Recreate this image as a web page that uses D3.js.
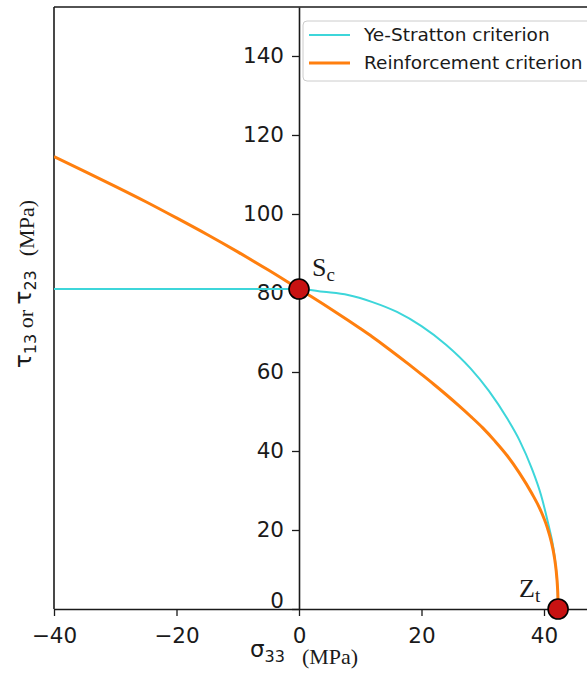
<!DOCTYPE html>
<html>
<head>
<meta charset="utf-8">
<script src="https://cdn.jsdelivr.net/npm/d3@7"></script>
<style>
  html, body { margin: 0; padding: 0; background: #ffffff; }
  svg { display: block; }
</style>
</head>
<body>
<svg id="chart" width="587" height="673"></svg>
<script>
// Ye-Stratton failure envelope: constant shear for compression, elliptical for tension
const yeStrattonSigma = [-40, -20, 0, 4, 8, 12, 16, 20, 24, 28, 31, 34, 36, 38, 39.5, 40.7, 41.5, 42.0, 42.2, 42.27, 42.3];
const yeStrattonTau   = [81, 81, 81, 80.3, 79.5, 77.7, 75.2, 71.6, 66.9, 60.9, 55.2, 48.2, 42.7, 35.6, 28.9, 21.5, 15.7, 9.6, 5.6, 3.0, 0];

// Reinforcement criterion envelope
const reinforcementSigma = [-40, -35, -30, -25, -20, -15, -10, -5, 0, 2, 4, 6, 8, 10, 12, 14, 16, 18, 20, 22, 24, 26, 28, 30, 32, 34, 36, 38, 39.5, 40.5, 41.2, 41.7, 42.0, 42.2, 42.27, 42.3];
const reinforcementTau   = [114.5, 110.8, 107.0, 103.1, 99.0, 94.8, 90.4, 85.8, 81, 79.1, 77.15, 75.15, 73.1, 71.0, 68.85, 66.6, 64.25, 61.85, 59.4, 56.9, 54.3, 51.6, 48.8, 45.85, 42.5, 38.8, 34.4, 29.3, 24.8, 20.8, 17.0, 13.1, 9.5, 5.6, 3.1, 0];

// Strength points: shear strength S_c and through-thickness tensile strength Z_t
const pointNames = ["S", "Z"];
const pointSubs  = ["c", "t"];
const pointSigma = [0, 42.3];
const pointTau   = [81, 0];

const xTicks = [-40, -20, 0, 20, 40];
const yTicks = [0, 20, 40, 60, 80, 100, 120, 140];

const seriesNames  = ["Ye-Stratton criterion", "Reinforcement criterion"];
const seriesColors = ["#3dd6da", "#ff7f0e"];
const seriesWidths = [2, 3];

const svg = d3.select("#chart");

const x = d3.scaleLinear().domain([-40, 48]).range([54, 593]);
const y = d3.scaleLinear().domain([0, 152.4]).range([609, 7]);

const ink = "#1a1a1a";
const sansFont = "'DejaVu Sans', sans-serif";
const serifFont = "'Liberation Serif', 'Times New Roman', serif";

// frame: left edge at x=-40 and top edge
svg.append("line")
  .attr("x1", x(-40)).attr("x2", x(-40))
  .attr("y1", y(152.4)).attr("y2", y(0))
  .attr("stroke", ink).attr("stroke-width", 1.6);
svg.append("line")
  .attr("x1", x(-40)).attr("x2", x(48))
  .attr("y1", y(152.4)).attr("y2", y(152.4))
  .attr("stroke", ink).attr("stroke-width", 1.6);

// x axis on tau = 0
const xAxis = svg.append("g")
  .attr("transform", `translate(0,${y(0)})`)
  .call(d3.axisBottom(x).tickValues(xTicks).tickSize(7).tickPadding(12).tickSizeOuter(0));

// y axis on sigma = 0
const yAxis = svg.append("g")
  .attr("transform", `translate(${x(0)},0)`)
  .call(d3.axisLeft(y).tickValues(yTicks).tickSize(7).tickPadding(8).tickSizeOuter(0));

[xAxis, yAxis].forEach(g => {
  g.selectAll(".domain").attr("stroke", ink).attr("stroke-width", 1.6);
  g.selectAll(".tick line").attr("stroke", ink).attr("stroke-width", 1.3);
  g.selectAll(".tick text")
    .attr("fill", ink)
    .style("font-family", sansFont)
    .style("font-size", "21.5px");
});
// the zero label on the shear axis sits just above the sigma axis line
yAxis.selectAll(".tick").filter(d => d === 0).select("text").attr("dy", "-0.05em");

// envelopes
const line = d3.line()
  .x(d => x(d[0]))
  .y(d => y(d[1]))
  .curve(d3.curveMonotoneX);

const seriesData = [
  d3.zip(yeStrattonSigma, yeStrattonTau),
  d3.zip(reinforcementSigma, reinforcementTau)
];

svg.append("clipPath").attr("id", "plot-clip")
  .append("rect")
  .attr("x", x(-40)).attr("y", y(152.4))
  .attr("width", x(48) - x(-40)).attr("height", y(0) - y(152.4) + 4);

svg.append("g").attr("clip-path", "url(#plot-clip)")
  .selectAll("path")
  .data(seriesData)
  .join("path")
  .attr("d", line)
  .attr("fill", "none")
  .attr("stroke", (d, i) => seriesColors[i])
  .attr("stroke-width", (d, i) => seriesWidths[i])
  .attr("stroke-linejoin", "round")
  .attr("stroke-linecap", "butt");

// strength points
svg.append("g")
  .selectAll("circle")
  .data(d3.range(pointSigma.length))
  .join("circle")
  .attr("cx", i => x(pointSigma[i]))
  .attr("cy", i => y(pointTau[i]))
  .attr("r", 10)
  .attr("fill", "#c81212")
  .attr("stroke", "#000")
  .attr("stroke-width", 1.6);

// point labels
const labelOffsets = [[13, -13], [-39, -12]];
const pointLabels = svg.append("g")
  .selectAll("text")
  .data(d3.range(pointNames.length))
  .join("text")
  .attr("x", i => x(pointSigma[i]) + labelOffsets[i][0])
  .attr("y", i => y(pointTau[i]) + labelOffsets[i][1])
  .attr("fill", ink)
  .style("font-family", serifFont)
  .style("font-size", "26px");
pointLabels.append("tspan").text(i => pointNames[i]);
pointLabels.append("tspan")
  .attr("dy", 5)
  .style("font-size", "19px")
  .text(i => pointSubs[i]);

// axis titles: symbol with numeric subscript, then the unit in a serif face
function addSymbol(text, symbol, sub, dy) {
  text.append("tspan").attr("dy", dy)
    .style("font-family", sansFont).style("font-size", "23px").text(symbol);
  text.append("tspan").attr("dy", 5)
    .style("font-family", sansFont).style("font-size", "16px").text(sub);
}

const xTitle = svg.append("text")
  .attr("x", 250).attr("y", 657)
  .attr("fill", ink)
  .style("font-family", serifFont)
  .style("font-size", "22px");
addSymbol(xTitle, "σ", "33", 0);
xTitle.append("tspan").attr("dy", 2).attr("dx", 17).text("(MPa)");

const yTitle = svg.append("text")
  .attr("transform", "translate(31,368) rotate(-90)")
  .attr("fill", ink)
  .style("font-family", serifFont)
  .style("font-size", "22px");
addSymbol(yTitle, "τ", "13", 0);
yTitle.append("tspan").attr("dy", -3).text(" or ");
addSymbol(yTitle, "τ", "23", -2);
yTitle.append("tspan").attr("dy", -2).attr("dx", 14).text("(MPa)");

// legend
const legend = svg.append("g").attr("transform", "translate(303,21)");
legend.append("rect")
  .attr("width", 300).attr("height", 60)
  .attr("rx", 4).attr("ry", 4)
  .attr("fill", "#ffffff").attr("fill-opacity", 0.8)
  .attr("stroke", "#cccccc").attr("stroke-width", 1);
const legendRows = legend.selectAll("g.row")
  .data(seriesNames)
  .join("g")
  .attr("class", "row")
  .attr("transform", (d, i) => `translate(0,${14 + i * 28})`);
legendRows.append("line")
  .attr("x1", 6).attr("x2", 47)
  .attr("stroke", (d, i) => seriesColors[i])
  .attr("stroke-width", (d, i) => seriesWidths[i]);
legendRows.append("text")
  .attr("x", 61)
  .attr("dy", "0.35em")
  .attr("fill", ink)
  .style("font-family", sansFont)
  .style("font-size", "18.5px")
  .text(d => d);
</script>
</body>
</html>
